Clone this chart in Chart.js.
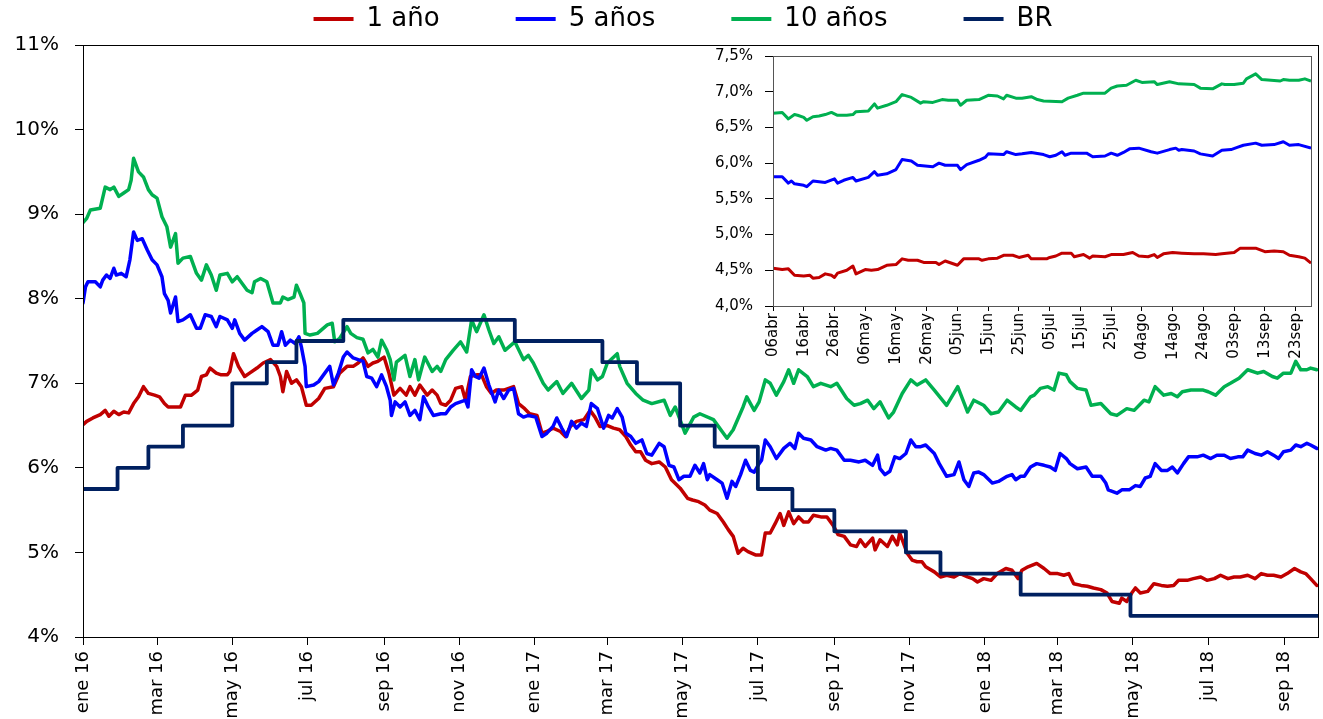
<!DOCTYPE html>
<html>
<head>
<meta charset="utf-8">
<script src="https://cdn.jsdelivr.net/npm/chart.js@4.4.1/dist/chart.umd.min.js"></script>
<style>
  html, body { margin: 0; padding: 0; background: #ffffff; }
  #wrap { position: relative; width: 1323px; height: 719px; }
  #main { position: absolute; left: 0; top: 0; }
  #inset { position: absolute; left: 700px; top: 35px; }
</style>
</head>
<body>
<div id="wrap">
  <canvas id="main" width="1323" height="719"></canvas>
  <canvas id="inset" width="618" height="339"></canvas>
</div>
<script>
// ---------- DATA (x = days since 1 ene 2016) ----------
const seriesNames = ['1 año', '5 años', '10 años', 'BR'];
const seriesColors = ['#C00000', '#0000FF', '#00B050', '#002060'];

const mainTickDays = [0, 60, 121, 182, 244, 305, 366, 425, 486, 547, 609, 670, 731, 790, 851, 912, 974];
const mainTickLabels = ['ene 16', 'mar 16', 'may 16', 'jul 16', 'sep 16', 'nov 16', 'ene 17', 'mar 17', 'may 17', 'jul 17', 'sep 17', 'nov 17', 'ene 18', 'mar 18', 'may 18', 'jul 18', 'sep 18'];

const tasa1 = [[0,6.51],[3,6.55],[8,6.59],[14,6.63],[18,6.68],[21,6.61],[25,6.67],[29,6.63],[33,6.66],[37,6.65],[41,6.76],[45,6.84],[49,6.96],[53,6.88],[58,6.86],[62,6.84],[66,6.76],[69,6.72],[75,6.72],[79,6.72],[83,6.86],[88,6.86],[93,6.92],[96,7.08],[100,7.10],[103,7.18],[108,7.12],[112,7.10],[117,7.10],[119,7.14],[122,7.35],[126,7.20],[131,7.08],[135,7.12],[141,7.18],[146,7.24],[152,7.28],[157,7.20],[160,7.08],[162,6.90],[165,7.14],[169,7.00],[173,7.04],[177,6.96],[181,6.74],[185,6.74],[191,6.82],[196,6.94],[203,6.96],[208,7.12],[214,7.20],[219,7.20],[223,7.24],[227,7.30],[231,7.20],[235,7.24],[239,7.26],[244,7.31],[248,7.12],[252,6.86],[257,6.94],[262,6.86],[265,6.96],[269,6.86],[273,6.98],[279,6.86],[283,6.92],[287,6.86],[290,6.76],[294,6.74],[298,6.80],[302,6.94],[307,6.96],[310,6.80],[314,7.08],[319,7.10],[323,7.10],[327,6.96],[331,6.88],[335,6.92],[341,6.92],[345,6.94],[349,6.96],[353,6.76],[358,6.70],[362,6.64],[368,6.62],[372,6.41],[376,6.43],[381,6.47],[387,6.43],[391,6.37],[395,6.49],[400,6.55],[406,6.57],[411,6.68],[415,6.60],[419,6.49],[425,6.50],[430,6.47],[435,6.45],[440,6.37],[444,6.27],[448,6.19],[452,6.19],[456,6.09],[461,6.05],[467,6.07],[472,6.01],[477,5.86],[484,5.76],[490,5.64],[494,5.62],[499,5.60],[504,5.56],[508,5.50],[514,5.46],[519,5.36],[523,5.27],[527,5.19],[531,4.99],[535,5.05],[539,5.01],[545,4.97],[550,4.97],[553,5.23],[557,5.23],[561,5.34],[565,5.46],[568,5.32],[572,5.48],[576,5.34],[580,5.42],[584,5.36],[588,5.36],[592,5.44],[598,5.42],[603,5.42],[608,5.32],[612,5.21],[617,5.19],[622,5.09],[627,5.07],[630,5.15],[634,5.07],[640,5.17],[642,5.03],[646,5.15],[652,5.07],[656,5.19],[660,5.09],[662,5.23],[668,4.99],[672,4.91],[676,4.89],[680,4.89],[683,4.83],[690,4.77],[695,4.71],[700,4.73],[706,4.71],[711,4.75],[717,4.71],[721,4.69],[725,4.65],[730,4.69],[736,4.67],[741,4.75],[748,4.81],[753,4.79],[758,4.69],[761,4.79],[766,4.83],[773,4.87],[779,4.81],[784,4.75],[790,4.75],[795,4.73],[799,4.75],[803,4.63],[809,4.61],[814,4.60],[819,4.58],[825,4.56],[830,4.52],[834,4.42],[840,4.40],[842,4.46],[846,4.42],[850,4.52],[853,4.58],[857,4.52],[863,4.54],[868,4.63],[874,4.61],[879,4.60],[884,4.61],[888,4.67],[895,4.67],[900,4.69],[906,4.71],[911,4.67],[917,4.69],[922,4.73],[928,4.69],[933,4.71],[938,4.71],[944,4.73],[950,4.69],[955,4.75],[960,4.73],[965,4.73],[971,4.71],[976,4.75],[982,4.81],[987,4.77],[991,4.75],[995,4.69],[1000,4.61]];

const tasa5 = [[0,7.95],[2,8.14],[4,8.20],[10,8.20],[14,8.14],[16,8.22],[19,8.28],[22,8.24],[25,8.36],[27,8.28],[31,8.30],[35,8.26],[38,8.46],[41,8.79],[44,8.69],[48,8.71],[52,8.58],[56,8.46],[60,8.40],[64,8.26],[66,8.06],[69,7.98],[71,7.83],[75,8.02],[77,7.73],[81,7.75],[87,7.81],[92,7.65],[95,7.65],[99,7.81],[104,7.79],[108,7.67],[111,7.79],[117,7.75],[121,7.65],[123,7.75],[127,7.59],[131,7.51],[137,7.59],[141,7.63],[145,7.67],[150,7.61],[154,7.45],[158,7.45],[161,7.61],[164,7.45],[168,7.51],[172,7.47],[175,7.55],[177,7.43],[180,7.20],[181,6.96],[187,6.98],[191,7.02],[196,7.12],[200,7.20],[203,6.98],[207,7.12],[211,7.31],[214,7.37],[219,7.30],[223,7.28],[227,7.26],[230,7.08],[234,7.06],[238,6.96],[242,7.10],[246,6.96],[249,6.80],[250,6.62],[253,6.78],[257,6.72],[261,6.78],[265,6.62],[269,6.68],[273,6.57],[276,6.84],[280,6.72],[284,6.62],[290,6.64],[294,6.64],[298,6.72],[302,6.76],[306,6.78],[310,6.80],[312,6.72],[315,7.16],[318,7.08],[321,7.06],[325,7.18],[329,6.98],[334,6.78],[337,6.92],[341,6.82],[345,6.92],[349,6.94],[353,6.64],[357,6.60],[361,6.62],[367,6.60],[372,6.37],[376,6.41],[381,6.49],[384,6.59],[388,6.47],[392,6.37],[396,6.55],[400,6.47],[404,6.53],[408,6.49],[412,6.76],[417,6.70],[422,6.47],[426,6.62],[429,6.59],[433,6.70],[437,6.60],[440,6.41],[444,6.37],[448,6.29],[453,6.33],[457,6.17],[461,6.15],[467,6.29],[471,6.25],[475,6.03],[479,6.01],[483,5.86],[487,5.90],[492,5.90],[496,6.03],[500,5.94],[503,6.05],[506,5.86],[508,5.92],[514,5.86],[518,5.82],[522,5.64],[526,5.84],[529,5.78],[533,5.92],[537,6.09],[541,5.97],[544,5.95],[548,6.05],[550,6.09],[553,6.33],[557,6.25],[562,6.11],[568,6.23],[573,6.29],[577,6.23],[580,6.41],[584,6.35],[590,6.33],[595,6.25],[602,6.21],[606,6.23],[611,6.21],[617,6.09],[622,6.09],[629,6.07],[634,6.09],[640,6.03],[644,6.15],[646,5.99],[650,5.92],[654,5.96],[658,6.13],[662,6.11],[667,6.17],[671,6.33],[675,6.25],[679,6.25],[683,6.27],[690,6.17],[694,6.05],[700,5.90],[706,5.92],[710,6.07],[714,5.86],[718,5.78],[722,5.94],[726,5.95],[730,5.92],[737,5.82],[742,5.84],[749,5.90],[753,5.92],[756,5.86],[760,5.90],[763,5.90],[768,6.01],[773,6.05],[779,6.03],[784,6.01],[788,5.97],[792,6.17],[797,6.11],[800,6.05],[806,5.99],[813,6.01],[818,5.90],[825,5.90],[829,5.82],[831,5.74],[838,5.70],[842,5.74],[848,5.74],[853,5.79],[857,5.78],[861,5.88],[865,5.90],[869,6.05],[874,5.97],[879,5.97],[883,6.01],[887,5.94],[892,6.05],[896,6.13],[903,6.13],[908,6.15],[914,6.11],[919,6.15],[925,6.15],[930,6.11],[936,6.13],[940,6.13],[944,6.21],[950,6.17],[955,6.15],[960,6.19],[965,6.15],[969,6.11],[973,6.19],[979,6.21],[983,6.27],[987,6.25],[992,6.29],[995,6.27],[1000,6.23]];

const tasa10 = [[0,8.90],[3,8.95],[6,9.05],[14,9.07],[18,9.32],[22,9.29],[25,9.32],[29,9.21],[33,9.25],[37,9.29],[39,9.40],[41,9.66],[45,9.50],[49,9.44],[53,9.29],[56,9.23],[60,9.19],[64,8.97],[68,8.85],[71,8.61],[75,8.77],[77,8.42],[81,8.48],[87,8.50],[92,8.30],[96,8.22],[100,8.40],[104,8.28],[108,8.10],[111,8.28],[117,8.30],[121,8.20],[125,8.26],[133,8.10],[137,8.07],[139,8.20],[144,8.24],[149,8.20],[154,7.95],[160,7.95],[162,8.02],[166,7.99],[171,8.02],[173,8.16],[176,8.06],[179,7.95],[180,7.59],[184,7.57],[190,7.59],[198,7.69],[202,7.71],[204,7.49],[208,7.53],[214,7.67],[217,7.59],[222,7.54],[227,7.52],[231,7.36],[235,7.40],[239,7.31],[242,7.51],[246,7.40],[249,7.28],[252,7.04],[254,7.25],[261,7.33],[265,7.08],[269,7.28],[272,7.04],[277,7.31],[283,7.14],[287,7.20],[290,7.14],[294,7.28],[300,7.39],[306,7.49],[311,7.37],[315,7.75],[319,7.61],[325,7.81],[329,7.63],[333,7.47],[337,7.55],[342,7.39],[350,7.49],[357,7.28],[361,7.33],[365,7.24],[373,7.00],[377,6.92],[384,7.02],[389,6.88],[396,7.00],[404,6.82],[410,6.92],[412,7.16],[417,7.04],[421,7.08],[425,7.24],[433,7.35],[435,7.20],[441,7.00],[448,6.88],[454,6.80],[461,6.76],[471,6.80],[476,6.62],[480,6.72],[488,6.41],[495,6.60],[500,6.64],[511,6.57],[522,6.35],[527,6.45],[535,6.72],[538,6.84],[544,6.68],[548,6.78],[553,7.04],[557,7.00],[562,6.86],[568,7.02],[572,7.16],[576,7.00],[580,7.16],[587,7.08],[592,6.96],[598,7.00],[606,6.96],[611,7.00],[619,6.82],[625,6.74],[630,6.76],[636,6.80],[641,6.70],[646,6.78],[653,6.59],[657,6.66],[664,6.88],[671,7.04],[676,6.98],[683,7.04],[690,6.92],[700,6.74],[709,6.96],[717,6.66],[722,6.80],[730,6.74],[736,6.64],[742,6.66],[749,6.80],[756,6.72],[760,6.68],[768,6.84],[771,6.86],[776,6.94],[782,6.96],[787,6.92],[791,7.12],[797,7.10],[800,7.02],[806,6.94],[813,6.92],[817,6.74],[825,6.76],[833,6.64],[838,6.62],[846,6.70],[852,6.68],[860,6.80],[864,6.78],[869,6.96],[876,6.86],[882,6.88],[887,6.84],[891,6.90],[898,6.92],[903,6.92],[908,6.92],[912,6.90],[918,6.86],[925,6.96],[930,7.00],[937,7.06],[944,7.16],[952,7.12],[957,7.14],[964,7.08],[968,7.06],[973,7.12],[979,7.12],[983,7.26],[987,7.16],[992,7.16],[995,7.18],[1000,7.16]];

// Tasa de política (BR): día de cambio y nivel vigente desde ese día
const tasaBR = [[0,5.75],[28,6.00],[53,6.25],[81,6.50],[121,7.00],[149,7.25],[173,7.50],[211,7.75],[350,7.50],[421,7.25],[449,7.00],[484,6.50],[512,6.25],[547,5.75],[575,5.50],[609,5.25],[667,5.00],[695,4.75],[760,4.50],[849,4.25],[1001,4.25]];

// ---------- INSET DATA (x = days since 06 abr 2018) ----------
const insetTickDays = [0, 10, 20, 30, 40, 50, 60, 70, 80, 90, 100, 110, 120, 130, 140, 150, 160, 170];
const insetTickLabels = ['06abr', '16abr', '26abr', '06may', '16may', '26may', '05jun', '15jun', '25jun', '05jul', '15jul', '25jul', '04ago', '14ago', '24ago', '03sep', '13sep', '23sep'];

const inset1 = [[0,4.53],[3,4.51],[5,4.52],[7,4.43],[10,4.42],[12,4.43],[13,4.39],[15,4.40],[17,4.45],[19,4.43],[20,4.40],[21,4.46],[24,4.50],[26,4.56],[27,4.45],[30,4.51],[32,4.50],[34,4.51],[37,4.57],[40,4.58],[42,4.66],[44,4.64],[47,4.64],[49,4.61],[53,4.61],[54,4.58],[56,4.63],[60,4.57],[62,4.66],[67,4.66],[68,4.64],[70,4.66],[73,4.67],[75,4.71],[78,4.71],[80,4.68],[83,4.71],[84,4.66],[89,4.66],[90,4.68],[92,4.70],[94,4.74],[97,4.74],[98,4.69],[101,4.72],[103,4.67],[104,4.70],[108,4.69],[110,4.72],[114,4.72],[117,4.75],[119,4.70],[122,4.69],[124,4.72],[125,4.68],[127,4.73],[130,4.75],[133,4.74],[137,4.73],[140,4.73],[144,4.72],[146,4.73],[150,4.75],[152,4.81],[157,4.81],[160,4.76],[163,4.77],[166,4.76],[168,4.71],[171,4.69],[173,4.67],[175,4.60]];

const inset5 = [[0,5.81],[3,5.81],[5,5.72],[6,5.75],[7,5.71],[10,5.69],[11,5.67],[13,5.75],[17,5.73],[20,5.78],[21,5.72],[23,5.76],[26,5.80],[27,5.75],[31,5.80],[33,5.88],[34,5.83],[37,5.85],[40,5.91],[42,6.05],[45,6.03],[47,5.97],[52,5.95],[54,6.00],[56,5.97],[60,5.97],[61,5.91],[63,5.98],[67,6.04],[69,6.08],[70,6.13],[75,6.12],[76,6.16],[79,6.12],[81,6.13],[84,6.15],[88,6.12],[90,6.09],[92,6.11],[94,6.16],[95,6.11],[97,6.14],[102,6.14],[104,6.09],[108,6.10],[110,6.14],[112,6.11],[114,6.15],[116,6.20],[119,6.21],[123,6.16],[125,6.14],[129,6.19],[131,6.21],[132,6.18],[133,6.19],[137,6.17],[139,6.13],[143,6.10],[146,6.18],[149,6.19],[151,6.22],[153,6.25],[157,6.28],[159,6.25],[163,6.26],[166,6.30],[168,6.25],[171,6.26],[175,6.21]];

const inset10 = [[0,6.70],[3,6.71],[5,6.62],[7,6.68],[8,6.67],[10,6.64],[11,6.60],[13,6.65],[15,6.66],[17,6.68],[19,6.71],[21,6.67],[24,6.67],[26,6.68],[27,6.72],[31,6.73],[33,6.83],[34,6.77],[37,6.81],[40,6.86],[42,6.96],[45,6.92],[48,6.84],[49,6.86],[52,6.85],[55,6.89],[57,6.88],[60,6.88],[61,6.81],[63,6.88],[67,6.89],[70,6.95],[73,6.94],[75,6.90],[76,6.95],[79,6.91],[81,6.91],[84,6.93],[86,6.89],[88,6.87],[94,6.86],[96,6.91],[99,6.95],[101,6.98],[103,6.98],[108,6.98],[110,7.05],[112,7.08],[115,7.09],[118,7.16],[120,7.13],[124,7.14],[125,7.10],[129,7.14],[132,7.11],[137,7.10],[139,7.05],[143,7.04],[146,7.11],[147,7.10],[150,7.10],[153,7.12],[154,7.18],[157,7.25],[159,7.17],[162,7.16],[165,7.15],[166,7.17],[168,7.16],[171,7.16],[173,7.18],[175,7.15]];

// ---------- HELPERS ----------
const toXY = arr => arr.map(p => ({ x: p[0], y: p[1] }));
const FONT = "'DejaVu Sans', Verdana, sans-serif";

const boxPlugin = {
  id: 'plotBox',
  afterDraw(chart, args, opts) {
    const a = chart.chartArea, ctx = chart.ctx;
    ctx.save();
    ctx.strokeStyle = opts.color || '#000';
    ctx.lineWidth = 1;
    ctx.strokeRect(Math.round(a.left) + 0.5, Math.round(a.top) + 0.5, Math.round(a.right - a.left), Math.round(a.bottom - a.top));
    ctx.restore();
  }
};

const LEG_PAD = 76;
const LEG_FONT = 26;
const legendPlugin = {
  id: 'legendPlace',
  beforeInit(chart) {
    const leg = chart.legend;
    if (!leg) return;
    const origFit = leg.fit;
    leg.fit = function () { origFit.call(this); this.height = 45; };
  },
  afterLayout(chart) {
    const leg = chart.legend;
    if (!leg) return;
    leg.top = 6 - LEG_PAD;
    leg.left += 24;
    leg.right += 24;
  }
};

// ---------- MAIN CHART ----------
new Chart(document.getElementById('main'), {
  type: 'line',
  data: {
    datasets: [
      { label: seriesNames[0], data: toXY(tasa1), borderColor: seriesColors[0], backgroundColor: seriesColors[0], borderWidth: 3.5, order: 4 },
      { label: seriesNames[1], data: toXY(tasa5), borderColor: seriesColors[1], backgroundColor: seriesColors[1], borderWidth: 3.5, order: 3 },
      { label: seriesNames[2], data: toXY(tasa10), borderColor: seriesColors[2], backgroundColor: seriesColors[2], borderWidth: 3.5, order: 2 },
      { label: seriesNames[3], data: toXY(tasaBR), borderColor: seriesColors[3], backgroundColor: seriesColors[3], borderWidth: 3.8, stepped: 'before', order: 1 }
    ]
  },
  options: {
    responsive: false,
    animation: false,
    devicePixelRatio: 1,
    layout: { padding: { left: 0, right: 5, top: 0, bottom: 0 } },
    elements: { point: { radius: 0 }, line: { tension: 0, borderJoinStyle: 'round', borderCapStyle: 'round' } },
    plugins: {
      tooltip: { enabled: false },
      plotBox: { color: '#000' },
      legend: {
        display: true,
        position: 'top',
        labels: {
          font: { family: FONT, size: LEG_FONT },
          color: '#000',
          boxWidth: 40,
          boxHeight: 4,
          padding: LEG_PAD,
          generateLabels: (chart) => chart.data.datasets.map((ds, i) => ({
            text: ds.label, fillStyle: ds.borderColor, strokeStyle: ds.borderColor,
            lineWidth: 0, hidden: false, datasetIndex: i, fontColor: '#000'
          }))
        }
      }
    },
    scales: {
      x: {
        type: 'linear',
        min: 0,
        max: 1001,
        afterBuildTicks: (scale) => { scale.ticks = mainTickDays.map(v => ({ value: v })); },
        afterFit: (scale) => { scale.height = 82; },
        ticks: {
          autoSkip: false,
          maxRotation: 90,
          minRotation: 90,
          padding: 6,
          color: '#000',
          font: { family: FONT, size: 18 },
          callback: (v, i) => mainTickLabels[i]
        },
        grid: { display: true, drawOnChartArea: false, drawTicks: true, tickLength: 8, color: '#000' },
        border: { display: true, color: '#000', width: 1 }
      },
      y: {
        type: 'linear',
        min: 4,
        max: 11,
        afterFit: (scale) => { scale.width = 83; },
        ticks: {
          stepSize: 1,
          padding: 16,
          color: '#000',
          font: { family: FONT, size: 20 },
          callback: (v) => v + '%'
        },
        grid: { display: true, drawOnChartArea: false, drawTicks: true, tickLength: 8, color: '#000' },
        border: { display: true, color: '#000', width: 1 }
      }
    }
  },
  plugins: [legendPlugin, boxPlugin]
});

// ---------- INSET CHART ----------
new Chart(document.getElementById('inset'), {
  type: 'line',
  data: {
    datasets: [
      { label: seriesNames[0], data: toXY(inset1), borderColor: seriesColors[0], borderWidth: 3 },
      { label: seriesNames[1], data: toXY(inset5), borderColor: seriesColors[1], borderWidth: 3 },
      { label: seriesNames[2], data: toXY(inset10), borderColor: seriesColors[2], borderWidth: 3 }
    ]
  },
  options: {
    responsive: false,
    animation: false,
    devicePixelRatio: 1,
    layout: { padding: { left: 0, right: 7, top: 2, bottom: 0 } },
    elements: { point: { radius: 0 }, line: { tension: 0, borderJoinStyle: 'round' } },
    plugins: { legend: { display: false }, tooltip: { enabled: false }, plotBox: { color: '#555' } },
    scales: {
      x: {
        type: 'linear',
        min: 0,
        max: 175,
        afterBuildTicks: (scale) => { scale.ticks = insetTickDays.map(v => ({ value: v })); },
        afterFit: (scale) => { scale.height = 68; },
        ticks: {
          autoSkip: false,
          maxRotation: 90,
          minRotation: 90,
          padding: 2,
          color: '#000',
          font: { family: FONT, size: 15 },
          callback: (v, i) => insetTickLabels[i]
        },
        grid: { display: true, drawOnChartArea: false, drawTicks: true, tickLength: 5, color: '#000' },
        border: { display: true, color: '#000', width: 1 }
      },
      y: {
        type: 'linear',
        min: 4,
        max: 7.5,
        afterFit: (scale) => { scale.width = 73; },
        ticks: {
          stepSize: 0.5,
          padding: 12,
          color: '#000',
          font: { family: FONT, size: 15 },
          callback: (v) => v.toFixed(1).replace('.', ',') + '%'
        },
        grid: { display: true, drawOnChartArea: false, drawTicks: true, tickLength: 8, color: '#000' },
        border: { display: true, color: '#000', width: 1 }
      }
    }
  },
  plugins: [boxPlugin]
});
</script>
</body>
</html>
